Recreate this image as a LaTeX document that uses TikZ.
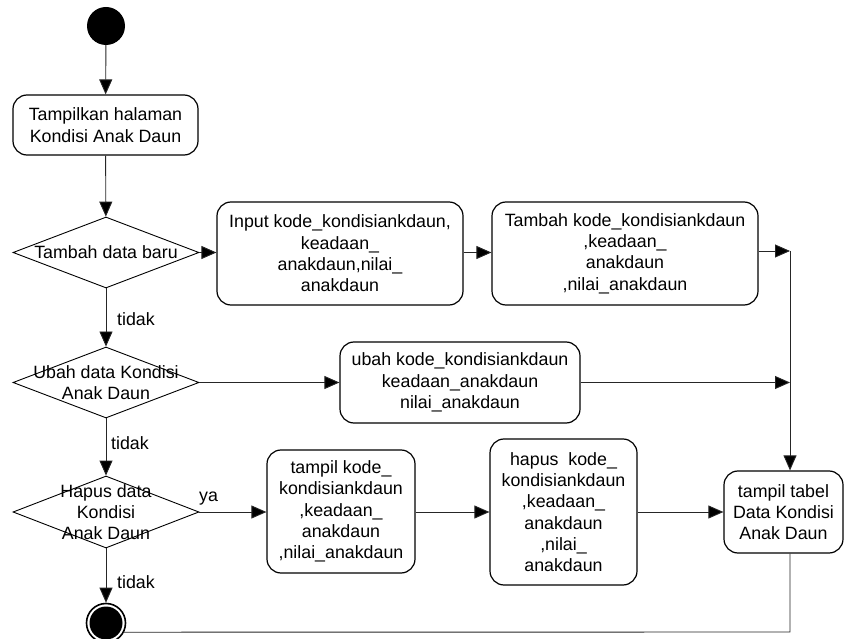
\documentclass[tikz,border=0pt]{standalone}
\usepackage{fontspec}
\setmainfont{Liberation Sans}
\usetikzlibrary{shapes.geometric,arrows.meta}
\begin{document}
\begin{tikzpicture}[x=1pt,y=-1pt,
  every node/.style={font=\fontsize{17.8}{21.3}\selectfont},
  actbox/.style={draw=black,line width=1.2pt,rounded corners=14pt,align=center,inner sep=0pt},
  decis/.style={draw=black,line width=0.9pt,diamond,inner sep=0pt,shape aspect=2.6},
  arr/.style={draw=black!85,line width=0.9pt,-{Triangle[length=15pt,width=13pt,fill=black]}},
  conn/.style={draw=black!85,line width=0.9pt},
  lbl/.style={anchor=west,inner sep=0pt}]
\useasboundingbox (0,0) rectangle (844,639);
% start / end
\node[circle,fill=black,minimum size=38pt,inner sep=0pt] (start) at (106,26) {};
\node[circle,draw=black,line width=1.6pt,minimum size=39pt,inner sep=0pt] (endc) at (106,623) {};
\node[circle,fill=black,minimum size=33pt,inner sep=0pt] (endin) at (106,623) {};
% boxes
\node[actbox,minimum width=185pt,minimum height=60pt] (b1) at (105.5,125) {Tampilkan halaman\\Kondisi Anak Daun};
\node[actbox,minimum width=246pt,minimum height=103pt] (input) at (340,253.5) {Input kode\_kondisiankdaun,\\keadaan\_\\anakdaun,nilai\_\\anakdaun};
\node[actbox,minimum width=266pt,minimum height=103pt] (tambah) at (625,253.5) {Tambah kode\_kondisiankdaun\\,keadaan\_\\anakdaun\\,nilai\_anakdaun};
\node[actbox,minimum width=240pt,minimum height=81pt] (ubah) at (460,382.5) {ubah kode\_kondisiankdaun\\keadaan\_anakdaun\\nilai\_anakdaun};
\node[actbox,minimum width=148pt,minimum height=123pt] (tkode) at (341,511.5) {tampil kode\_\\kondisiankdaun\\,keadaan\_\\anakdaun\\,nilai\_anakdaun};
\node[actbox,minimum width=147pt,minimum height=146pt] (hapus) at (563.5,512) {hapus\ \ kode\_\\kondisiankdaun\\,keadaan\_\\anakdaun\\,nilai\_\\anakdaun};
\node[actbox,minimum width=119pt,minimum height=82pt] (tabel) at (783.5,512) {tampil tabel\\Data Kondisi\\Anak Daun};
% decisions
\node[decis,minimum width=186pt,minimum height=71pt] (d1) at (106,252.5) {};
\node[align=center,inner sep=0pt] (d1t) at (d1) {Tambah data baru};
\node[decis,minimum width=186pt,minimum height=71pt] (d2) at (106,382.5) {};
\node[align=center,inner sep=0pt] (d2t) at (d2) {Ubah data Kondisi\\Anak Daun};
\node[decis,minimum width=186pt,minimum height=72pt] (d3) at (106,512) {};
\node[align=center,inner sep=0pt] (d3t) at (d3) {Hapus data\\Kondisi\\Anak Daun};
% junctions
\coordinate (j1) at (790,251);
\coordinate (j2) at (790,382.5);
\coordinate (c1) at (790,632);
% connectors
\draw[arr] (start) -- (b1);
\draw[arr] (b1) -- (d1);
\draw[arr] (d1.east) -- (d1.east -| input.west);
\draw[arr] (input.east |- d1.east) -- (d1.east -| tambah.west);
\draw[arr] (tambah.east |- j1) -- (j1);
\draw[arr] (j1) -- (j1 |- tabel.north);
\draw[arr] (d1) -- (d2);
\draw[arr] (d2.east) -- (d2.east -| ubah.west);
\draw[arr] (ubah.east |- j2) -- (j2);
\draw[arr] (d2) -- (d3);
\draw[arr] (d3.east) -- (d3.east -| tkode.west);
\draw[arr] (tkode.east |- d3.east) -- (d3.east -| hapus.west);
\draw[arr] (hapus.east |- d3.east) -- (d3.east -| tabel.west);
\draw[arr] (d3) -- (endc);
\draw[conn] (tabel.south -| j1) -- (c1) -- (endc.-27);
% labels
\node[lbl] (l1) at (117,319) {tidak};
\node[lbl] (l2) at (111,443) {tidak};
\node[lbl] (l3) at (199,499) {ya};
\node[lbl] (l4) at (117,582) {tidak};
\end{tikzpicture}
\end{document}
